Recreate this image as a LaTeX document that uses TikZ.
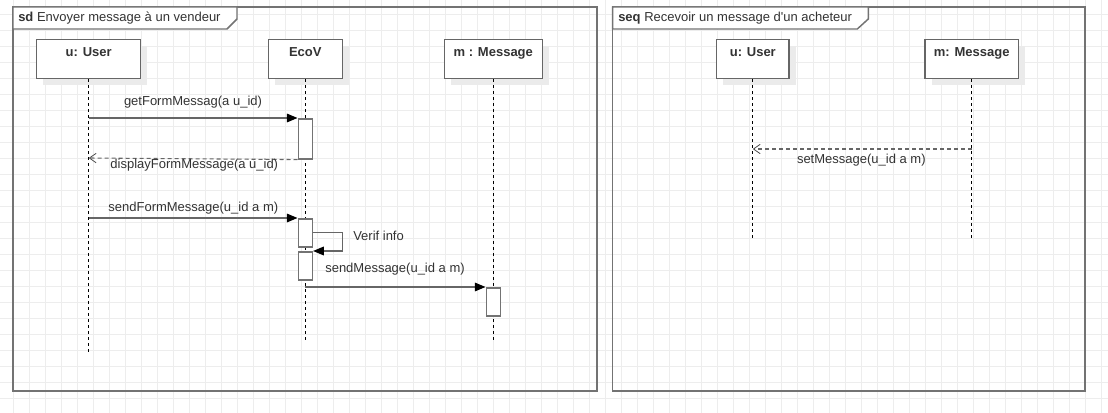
\documentclass[tikz,border=0pt]{standalone}
\usepackage{fontspec}
\setmainfont{Liberation Sans}
\usetikzlibrary{arrows.meta}
\usetikzlibrary{shadows}

\tikzset{
  gridline/.style={black!7, line width=0.75pt},
  sdframe/.style={draw=black!55, line width=1.1pt},
  sdtab/.style={draw=black!55, fill=white, line width=1.1pt},
  headbox/.style={draw=black!60, fill=white, line width=1.1pt, anchor=north,
    inner sep=0pt, text height=12.75pt, text depth=16.7pt,
    font=\fontsize{9.75}{11.7}\selectfont\bfseries,
    drop shadow={shadow xshift=5pt, shadow yshift=-5pt, fill=black!8, opacity=1}},
  lifeline/.style={black, line width=0.6pt, dash pattern=on 2.25pt off 2.25pt},
  act/.style={draw=black!55, fill=white, line width=1.2pt, minimum width=10.5pt, inner sep=0pt, anchor=north},
  msg/.style={draw=black!60, line width=0.85pt, -{Triangle[length=8pt,width=6.5pt,color=black]}},
  ret/.style={draw=black!60, line width=0.8pt, dash pattern=on 3pt off 2.25pt,
    -{Straight Barb[length=5pt,width=7pt,color=black!70,line width=0.6pt]}},
  lbl/.style={inner sep=0pt, anchor=base},
}

\begin{document}
\begin{tikzpicture}[x=0.75pt, y=-0.75pt, font=\fontsize{9.75}{11.7}\selectfont, text=black!80]

\useasboundingbox[fill=white] (0,0) rectangle (1108,413);
\foreach \gx in {13,29,...,1101}
  \draw[gridline] (\gx,0)--(\gx,413);
\foreach \gy in {15,31,...,399}
  \draw[gridline] (0,\gy)--(1108,\gy);

% sd Envoyer message
\draw[sdframe] (13,7) rectangle (597,391);
\draw[sdtab] (13,7)--(237,7)--(237,19)--(227,29)--(13,29)--cycle;
\node[lbl, anchor=base west] (sdtitle) at (18,21.3) {\textbf{sd} Envoyer message à un vendeur};

\node[headbox, minimum width=78pt] (uL) at (88.7,38.7) {u: User};
\node[headbox, minimum width=55.5pt] (eL) at (305.3,38.7) {EcoV};
\node[headbox, minimum width=73.5pt] (mL) at (493.3,38.7) {m : Message};
\draw[lifeline] (uL.south)--++(0,273);
\draw[lifeline] (eL.south)--++(0,261);
\draw[lifeline] (mL.south)--++(0,261);

\node[act, minimum height=30pt] (a1) at (eL.south |- 0,118) {};
\node[act, minimum height=21pt] (a2) at (eL.south |- 0,218) {};
\node[act, minimum height=21pt] (a3) at (eL.south |- 0,251) {};
\node[act, minimum height=21pt] (a4) at (mL.south |- 0,287) {};

\coordinate (u1) at (uL.south |- 0,118);
\coordinate (u2) at (uL.south |- 0,158);
\coordinate (u3) at (uL.south |- 0,218);
\coordinate (e1) at (eL.south |- 0,287);

\draw[msg] (u1)--(a1.north west);
\node[lbl] (getform) at (193,105.3) {getFormMessag(a u\_id)};
\draw[ret] (a1.south west)--(u2);
\node[lbl] (dispform) at (194.3,168.3) {displayFormMessage(a u\_id)};
\draw[msg] (u3)--(a2.north west);
\node[lbl] (sendform) at (193.3,212) {sendFormMessage(u\_id a m)};
\draw[msg] (a2.east)--++(29.3,0) |- (a3.north east);
\node[lbl, anchor=base west] (verif) at (353,240.7) {Verif info};
\draw[msg] (e1)--(a4.north west);
\node[lbl] (sendmsg) at (395,272.7) {sendMessage(u\_id a m)};

% seq Recevoir un message
\draw[sdframe] (612.7,7) rectangle (1085,391);
\draw[sdtab] (612.7,7)--(868.3,7)--(868.3,19)--(857.3,29)--(612.7,29)--cycle;
\node[lbl, anchor=base west] (seqtitle) at (618,21.3) {\textbf{seq} Recevoir un message d\textquotesingle un acheteur};

\node[headbox, minimum width=54.2pt] (uR) at (752.8,38.7) {u: User};
\node[headbox, minimum width=70pt] (mR) at (971.7,38.7) {m: Message};
\draw[lifeline] (uR.south)--++(0,160);
\draw[lifeline] (mR.south)--++(0,160);

\coordinate (m1) at (mR.south |- 0,149);
\coordinate (u4) at (uR.south |- 0,149);
\draw[ret] (m1)--(u4);
\node[lbl] (setmsg) at (861.3,163.3) {setMessage(u\_id a m)};

\end{tikzpicture}
\end{document}
